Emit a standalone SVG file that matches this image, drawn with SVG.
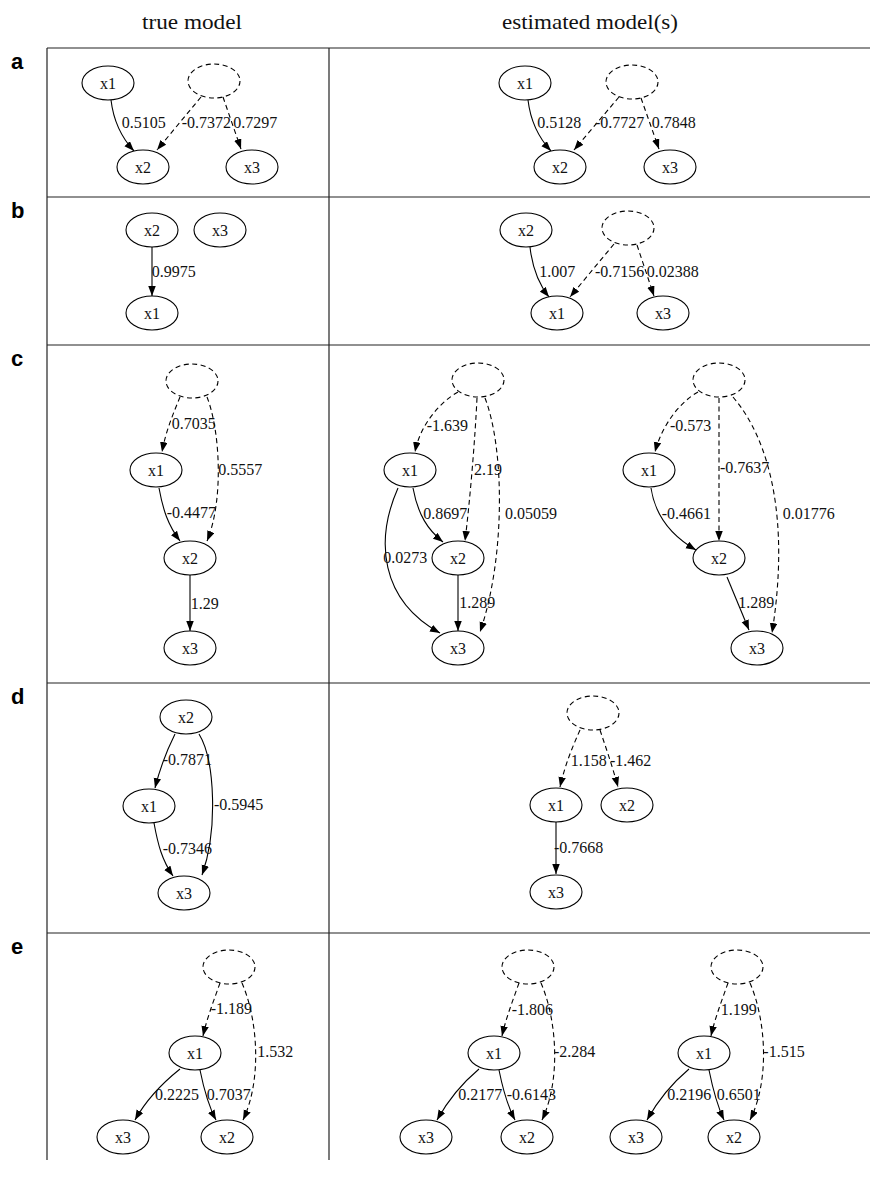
<svg xmlns="http://www.w3.org/2000/svg" width="870" height="1178" viewBox="0 0 870 1178">
<style>
.bg{fill:#fff}
.grid{stroke:#222;stroke-width:1.2;fill:none}
.hdr{font-family:"Liberation Serif",serif;font-size:21px;fill:#111;text-anchor:middle}
.row{font-family:"Liberation Sans",sans-serif;font-size:22px;font-weight:bold;fill:#000}
.n{fill:#fff;stroke:#000;stroke-width:1.1}
.l{fill:none;stroke:#000;stroke-width:1.1;stroke-dasharray:5,3.5}
.nt{font-family:"Liberation Serif",serif;font-size:16px;fill:#111;text-anchor:middle}
.et{font-family:"Liberation Serif",serif;font-size:16px;fill:#111}
.e{fill:none;stroke:#000;stroke-width:1.1;marker-end:url(#ah)}
.d{fill:none;stroke:#000;stroke-width:1.1;stroke-dasharray:5,3.5;marker-end:url(#ah)}
</style>
<defs>
<marker id="ah" markerUnits="userSpaceOnUse" markerWidth="11" markerHeight="8" refX="10" refY="3.75" orient="auto">
<path d="M0,0 L10,3.75 L0,7.5 z" fill="#000"/>
</marker>
</defs>
<rect class="bg" x="0" y="0" width="870" height="1178"/>
<g id="table">
<line class="grid" x1="47" y1="48" x2="870" y2="48"/>
<line class="grid" x1="47" y1="197" x2="870" y2="197"/>
<line class="grid" x1="47" y1="345" x2="870" y2="345"/>
<line class="grid" x1="47" y1="683" x2="870" y2="683"/>
<line class="grid" x1="47" y1="933" x2="870" y2="933"/>
<line class="grid" x1="47" y1="48" x2="47" y2="1160"/>
<line class="grid" x1="329" y1="48" x2="329" y2="1160"/>
<text class="hdr" x="192" y="29" textLength="100" lengthAdjust="spacingAndGlyphs">true model</text>
<text class="hdr" x="590" y="29" textLength="176" lengthAdjust="spacingAndGlyphs">estimated model(s)</text>
<text class="row" x="11" y="69">a</text>
<text class="row" x="11" y="218">b</text>
<text class="row" x="11" y="366">c</text>
<text class="row" x="11" y="704">d</text>
<text class="row" x="11" y="954">e</text>
</g>
<g id="connectors">
<!-- a true -->
<path class="e" d="M111,100 C113,117 120,136 134,151"/>
<path class="d" d="M201,97 L157,150"/>
<path class="d" d="M223,97 L241,149"/>
<!-- a est -->
<path class="e" d="M528,100 C530,117 537,136 551,151"/>
<path class="d" d="M619,97 L574,150"/>
<path class="d" d="M641,98 L659,149"/>
<!-- b true -->
<path class="e" d="M152,247 L152,296"/>
<!-- b est -->
<path class="e" d="M530,247 C532,265 537,282 549,297"/>
<path class="d" d="M614,244 L570,297"/>
<path class="d" d="M637,245 L654,296"/>
<!-- c true -->
<path class="d" d="M180,397 C174,412 166,430 162,452"/>
<path class="d" d="M207,397 C220,430 224,500 207,541"/>
<path class="e" d="M159,488 C163,510 168,525 180,541"/>
<path class="e" d="M190,575 L190,631"/>
<!-- c est1 -->
<path class="d" d="M458,392 C440,402 420,425 415,452"/>
<path class="d" d="M477,398 C475,440 470,500 465,541"/>
<path class="d" d="M485,398 C505,450 505,560 480,632"/>
<path class="e" d="M413,488 C418,515 428,530 443,542"/>
<path class="e" d="M398,488 C375,540 380,600 440,633"/>
<path class="e" d="M458,575 L458,631"/>
<!-- c est2 -->
<path class="d" d="M698,392 C680,402 662,425 655,452"/>
<path class="d" d="M719,398 L719,541"/>
<path class="d" d="M733,397 C770,440 790,520 772,633"/>
<path class="e" d="M651,488 C655,515 670,535 696,550"/>
<path class="e" d="M727,577 L749,630"/>
<!-- d true -->
<path class="e" d="M175,734 C167,750 160,768 155,788"/>
<path class="e" d="M199,734 C215,760 218,830 202,875"/>
<path class="e" d="M154,823 C158,845 162,860 173,876"/>
<!-- d est -->
<path class="d" d="M580,730 C572,748 565,765 560,787"/>
<path class="d" d="M600,730 C606,748 612,765 618,787"/>
<path class="e" d="M556,822 L556,874"/>
<!-- e true -->
<path class="d" d="M220,983 C214,1000 207,1018 203,1036"/>
<path class="d" d="M242,983 C258,1020 262,1080 243,1120"/>
<path class="e" d="M180,1069 C160,1085 145,1102 135,1120"/>
<path class="e" d="M200,1070 C204,1090 208,1105 216,1120"/>
<!-- e est1 -->
<path class="d" d="M519,983 C513,1000 506,1018 502,1036"/>
<path class="d" d="M541,983 C557,1020 561,1080 542,1120"/>
<path class="e" d="M479,1069 C460,1085 447,1102 437,1120"/>
<path class="e" d="M499,1070 C503,1090 507,1105 515,1120"/>
<!-- e est2 -->
<path class="d" d="M728,983 C722,1000 715,1018 711,1036"/>
<path class="d" d="M750,983 C766,1020 770,1080 750,1120"/>
<path class="e" d="M689,1069 C670,1085 657,1102 647,1120"/>
<path class="e" d="M709,1070 C713,1090 717,1105 724,1120"/>
</g>
<g id="edge-labels">
<text class="et" x="121.7" y="128">0.5105</text>
<text class="et" x="181.7" y="128">-0.7372</text>
<text class="et" x="233.3" y="128">0.7297</text>
<text class="et" x="537.3" y="128">0.5128</text>
<text class="et" x="595" y="128">-0.7727</text>
<text class="et" x="651.7" y="128">0.7848</text>
<text class="et" x="151.7" y="277">0.9975</text>
<text class="et" x="539.3" y="277">1.007</text>
<text class="et" x="595" y="277">-0.7156</text>
<text class="et" x="646.7" y="277">0.02388</text>
<text class="et" x="171.7" y="429.3">0.7035</text>
<text class="et" x="218.3" y="475">0.5557</text>
<text class="et" x="166.7" y="518.3">-0.4477</text>
<text class="et" x="190.7" y="609.3">1.29</text>
<text class="et" x="426.7" y="430.7">-1.639</text>
<text class="et" x="474" y="475">2.19</text>
<text class="et" x="423.3" y="519.3">0.8697</text>
<text class="et" x="505" y="519.3">0.05059</text>
<text class="et" x="383.3" y="563.3">0.0273</text>
<text class="et" x="459.3" y="608.3">1.289</text>
<text class="et" x="670" y="430.7">-0.573</text>
<text class="et" x="720" y="473.3">-0.7637</text>
<text class="et" x="661.7" y="519.3">-0.4661</text>
<text class="et" x="782.7" y="519.3">0.01776</text>
<text class="et" x="738.3" y="608.3">1.289</text>
<text class="et" x="162.7" y="765">-0.7871</text>
<text class="et" x="214" y="810">-0.5945</text>
<text class="et" x="162.7" y="854">-0.7346</text>
<text class="et" x="570.7" y="766">1.158</text>
<text class="et" x="610" y="766">-1.462</text>
<text class="et" x="554" y="853.3">-0.7668</text>
<text class="et" x="210.7" y="1014">-1.189</text>
<text class="et" x="257.3" y="1056.7">1.532</text>
<text class="et" x="155" y="1100">0.2225</text>
<text class="et" x="206.7" y="1100">0.7037</text>
<text class="et" x="511.7" y="1015">-1.806</text>
<text class="et" x="554" y="1056.7">-2.284</text>
<text class="et" x="458.3" y="1100">0.2177</text>
<text class="et" x="506.7" y="1100">-0.6143</text>
<text class="et" x="720.7" y="1015">1.199</text>
<text class="et" x="763.3" y="1056.7">-1.515</text>
<text class="et" x="667.3" y="1100">0.2196</text>
<text class="et" x="716.7" y="1100">0.6501</text>
</g>
<!-- panel a true -->
<g id="a-true-x1"><ellipse class="n" cx="108" cy="83" rx="26" ry="17"/><text class="nt" x="108" y="88.5">x1</text></g>
<g id="a-true-x2"><ellipse class="n" cx="143" cy="167" rx="26" ry="17"/><text class="nt" x="143" y="172.5">x2</text></g>
<g id="a-true-x3"><ellipse class="n" cx="252" cy="167" rx="26" ry="17"/><text class="nt" x="252" y="172.5">x3</text></g>
<g id="a-true-L"><ellipse class="l" cx="214" cy="81" rx="26" ry="17"/></g>
<!-- panel a est -->
<g id="a-est-x1"><ellipse class="n" cx="525" cy="83" rx="26" ry="17"/><text class="nt" x="525" y="88.5">x1</text></g>
<g id="a-est-x2"><ellipse class="n" cx="560" cy="167" rx="26" ry="17"/><text class="nt" x="560" y="172.5">x2</text></g>
<g id="a-est-x3"><ellipse class="n" cx="670" cy="167" rx="26" ry="17"/><text class="nt" x="670" y="172.5">x3</text></g>
<g id="a-est-L"><ellipse class="l" cx="632" cy="82" rx="26" ry="17"/></g>
<!-- panel b true -->
<g id="b-true-x2"><ellipse class="n" cx="152" cy="230" rx="26" ry="17"/><text class="nt" x="152" y="235.5">x2</text></g>
<g id="b-true-x3"><ellipse class="n" cx="220" cy="230" rx="26" ry="17"/><text class="nt" x="220" y="235.5">x3</text></g>
<g id="b-true-x1"><ellipse class="n" cx="152" cy="313" rx="26" ry="17"/><text class="nt" x="152" y="318.5">x1</text></g>
<!-- panel b est -->
<g id="b-est-x2"><ellipse class="n" cx="526" cy="230" rx="26" ry="17"/><text class="nt" x="526" y="235.5">x2</text></g>
<g id="b-est-L"><ellipse class="l" cx="628" cy="228" rx="26" ry="17"/></g>
<g id="b-est-x1"><ellipse class="n" cx="557" cy="313" rx="26" ry="17"/><text class="nt" x="557" y="318.5">x1</text></g>
<g id="b-est-x3"><ellipse class="n" cx="663" cy="313" rx="26" ry="17"/><text class="nt" x="663" y="318.5">x3</text></g>
<!-- panel c true -->
<g id="c-true-L"><ellipse class="l" cx="192" cy="381" rx="26" ry="17"/></g>
<g id="c-true-x1"><ellipse class="n" cx="156" cy="470" rx="26" ry="17"/><text class="nt" x="156" y="475.5">x1</text></g>
<g id="c-true-x2"><ellipse class="n" cx="190" cy="558" rx="26" ry="17"/><text class="nt" x="190" y="563.5">x2</text></g>
<g id="c-true-x3"><ellipse class="n" cx="190" cy="648" rx="26" ry="17"/><text class="nt" x="190" y="653.5">x3</text></g>
<!-- panel c est1 -->
<g id="c-est1-L"><ellipse class="l" cx="478" cy="380" rx="26" ry="17"/></g>
<g id="c-est1-x1"><ellipse class="n" cx="410" cy="470" rx="26" ry="17"/><text class="nt" x="410" y="475.5">x1</text></g>
<g id="c-est1-x2"><ellipse class="n" cx="458" cy="558" rx="26" ry="17"/><text class="nt" x="458" y="563.5">x2</text></g>
<g id="c-est1-x3"><ellipse class="n" cx="458" cy="648" rx="26" ry="17"/><text class="nt" x="458" y="653.5">x3</text></g>
<!-- panel c est2 -->
<g id="c-est2-L"><ellipse class="l" cx="719" cy="380" rx="26" ry="17"/></g>
<g id="c-est2-x1"><ellipse class="n" cx="649" cy="470" rx="26" ry="17"/><text class="nt" x="649" y="475.5">x1</text></g>
<g id="c-est2-x2"><ellipse class="n" cx="719" cy="558" rx="26" ry="17"/><text class="nt" x="719" y="563.5">x2</text></g>
<g id="c-est2-x3"><ellipse class="n" cx="757" cy="648" rx="26" ry="17"/><text class="nt" x="757" y="653.5">x3</text></g>
<!-- panel d true -->
<g id="d-true-x2"><ellipse class="n" cx="186" cy="717" rx="26" ry="17"/><text class="nt" x="186" y="722.5">x2</text></g>
<g id="d-true-x1"><ellipse class="n" cx="149" cy="806" rx="26" ry="17"/><text class="nt" x="149" y="811.5">x1</text></g>
<g id="d-true-x3"><ellipse class="n" cx="184" cy="893" rx="26" ry="17"/><text class="nt" x="184" y="898.5">x3</text></g>
<!-- panel d est -->
<g id="d-est-L"><ellipse class="l" cx="593" cy="713" rx="26" ry="17"/></g>
<g id="d-est-x1"><ellipse class="n" cx="556" cy="805" rx="26" ry="17"/><text class="nt" x="556" y="810.5">x1</text></g>
<g id="d-est-x2"><ellipse class="n" cx="627" cy="805" rx="26" ry="17"/><text class="nt" x="627" y="810.5">x2</text></g>
<g id="d-est-x3"><ellipse class="n" cx="556" cy="892" rx="26" ry="17"/><text class="nt" x="556" y="897.5">x3</text></g>
<!-- panel e true -->
<g id="e-true-L"><ellipse class="l" cx="229" cy="967" rx="26" ry="17"/></g>
<g id="e-true-x1"><ellipse class="n" cx="195" cy="1053" rx="26" ry="17"/><text class="nt" x="195" y="1058.5">x1</text></g>
<g id="e-true-x3"><ellipse class="n" cx="123" cy="1137" rx="26" ry="17"/><text class="nt" x="123" y="1142.5">x3</text></g>
<g id="e-true-x2"><ellipse class="n" cx="227" cy="1137" rx="26" ry="17"/><text class="nt" x="227" y="1142.5">x2</text></g>
<!-- panel e est1 -->
<g id="e-est1-L"><ellipse class="l" cx="528" cy="967" rx="26" ry="17"/></g>
<g id="e-est1-x1"><ellipse class="n" cx="494" cy="1053" rx="26" ry="17"/><text class="nt" x="494" y="1058.5">x1</text></g>
<g id="e-est1-x3"><ellipse class="n" cx="426" cy="1137" rx="26" ry="17"/><text class="nt" x="426" y="1142.5">x3</text></g>
<g id="e-est1-x2"><ellipse class="n" cx="527" cy="1137" rx="26" ry="17"/><text class="nt" x="527" y="1142.5">x2</text></g>
<!-- panel e est2 -->
<g id="e-est2-L"><ellipse class="l" cx="737" cy="967" rx="26" ry="17"/></g>
<g id="e-est2-x1"><ellipse class="n" cx="704" cy="1053" rx="26" ry="17"/><text class="nt" x="704" y="1058.5">x1</text></g>
<g id="e-est2-x3"><ellipse class="n" cx="636" cy="1137" rx="26" ry="17"/><text class="nt" x="636" y="1142.5">x3</text></g>
<g id="e-est2-x2"><ellipse class="n" cx="734" cy="1137" rx="26" ry="17"/><text class="nt" x="734" y="1142.5">x2</text></g>
</svg>
